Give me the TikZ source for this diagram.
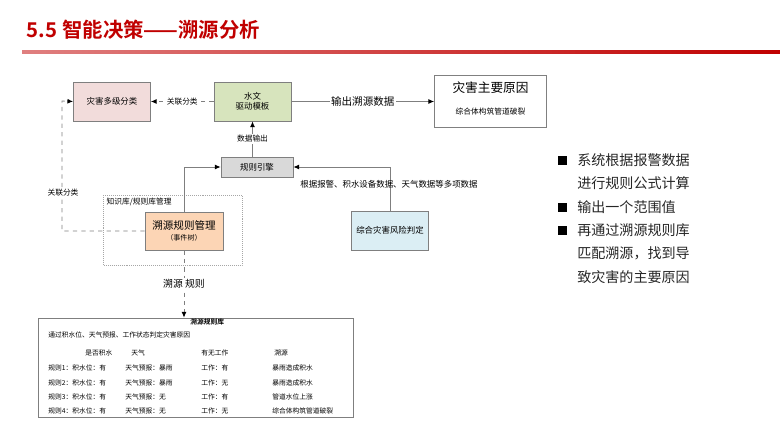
\documentclass[tikz,border=0pt]{standalone}
\usepackage{fontspec}
\setmainfont{Noto Sans CJK SC}[BoldFont={Noto Sans CJK SC Bold}]
\usetikzlibrary{positioning,arrows.meta}
\definecolor{titlered}{HTML}{C00000}
\definecolor{pinkbox}{HTML}{F2DCDB}
\definecolor{greenbox}{HTML}{D7E4BD}
\definecolor{graybox}{HTML}{D9D9D9}
\definecolor{bluebox}{HTML}{DBEEF4}
\definecolor{orangebox}{HTML}{FCD5B5}
\definecolor{bodytext}{HTML}{262626}
\definecolor{linegray}{HTML}{7F7F7F}

\begin{document}
\begin{tikzpicture}[>={Latex[length=4pt,width=3.5pt,black]},x=0.025cm,y=-0.025cm,
        box/.style={draw=linegray,semithick,minimum width=1.925cm,minimum height=0.975cm,font=\fontsize{6}{7}\selectfont,align=center},
        lbl/.style={fill=white,text=black,inner sep=1pt,font=\fontsize{5.5}{6}\selectfont},
        cell/.style={anchor=west,inner sep=0pt,font=\fontsize{4.8}{5}\selectfont},
        bullet/.style={anchor=west,inner sep=0pt,text=bodytext,font=\fontsize{10}{12}\selectfont}]
        \useasboundingbox(0,0)rectangle(780,439);
        % title
        \node[anchor=west,text=titlered,font=\fontsize{14.5}{16}\selectfont\bfseries](title)at(22,30){5.5 智能决策——溯源分析};
        \shade[left color=titlered!50,right color=titlered](22,50.5)rectangle(780,53.5);

        % boxes
        \node[box,fill=pinkbox](fenlei)at(112,101.5){灾害多级分类};
        \node[box,fill=greenbox](moxing)at(252.5,101.5){水文\\驱动模板};
        \node[box,draw=gray,minimum width=2.8cm,minimum height=1.3cm](yuanyin)at(490.5,101.5){};
        \node[font=\fontsize{9}{10}\selectfont](yuanyint)at(490.5,88){灾害主要原因};
        \node[font=\fontsize{5.5}{6}\selectfont](yuanyins)at(490.5,112){综合体构筑管道破裂};
        \node[box,fill=graybox,minimum width=1.8cm,minimum height=0.5cm](yinqing)at(257,167){规则引擎};
        \node[box,fill=bluebox,minimum width=1.9cm](panding)at(390,230.5){综合灾害风险判定};
        \draw[gray!70,densely dotted](103,195)rectangle(242,265);
        \node[anchor=north west,inner sep=1pt,font=\fontsize{5.5}{6}\selectfont](zhishi)at(105,196){知识库/规则库管理};
        \node[box,fill=orangebox,minimum width=1.95cm,minimum height=0.95cm,font=\fontsize{7.5}{9}\selectfont](guanli)at(184,231)
            {溯源规则管理\\[-1pt]{\fontsize{5}{6}\selectfont（事件树）}};

        % connectors
        \draw[->,linegray,semithick](moxing)--(yuanyin.west|-moxing)node[lbl,midway,font=\fontsize{7.5}{8}\selectfont]{输出溯源数据};
        \draw[->,linegray,semithick,dashed](moxing)--(fenlei)node[lbl,midway]{关联分类};
        \draw[->,linegray,semithick](yinqing.north-|moxing)--(moxing)node[lbl,midway]{数据输出};
        \draw[->,linegray,semithick](panding.north)|-(yinqing.east);
        \node[font=\fontsize{6}{7}\selectfont](shuju)at(389,184){根据报警、积水设备数据、天气数据等多项数据};
        \draw[->,linegray,semithick](guanli.north)|-(yinqing.west);
        \draw[->,linegray,semithick,dashed](guanli.west)-|(62,101)--(fenlei.west);
        \node[lbl](lianyu)at(63,193){关联分类};

        % rule table
        \node[draw=linegray,semithick,minimum width=7.875cm,minimum height=2.475cm,inner sep=0pt](biao)at(195.5,367.5){};
        \draw[->,linegray,semithick,dashed](guanli.south)--(guanli.south|-biao.north)node[lbl,midway,font=\fontsize{7}{8}\selectfont]{溯源 规则};
        \node[cell,font=\fontsize{4.8}{5}\selectfont\bfseries](biaoti)at(190,322){溯源规则库};
        \node[cell](shuoming)at(48,335){通过积水位、天气预报、工作状态判定灾害原因};
        \node[cell](h1)at(85,353){是否积水};
        \node[cell](h2)at(131,353){天气};
        \node[cell](h3)at(201,353){有无工作};
        \node[cell](h4)at(274,353){溯源};
        \foreach \y/\r/\w/\g/\s in {368/1/暴雨/有/暴雨造成积水,383/2/暴雨/无/暴雨造成积水,397/3/无/有/管道水位上涨,411/4/无/无/综合体构筑管道破裂}
            {
                \node[cell]at(48,\y){规则\r：积水位：有};
                \node[cell]at(125,\y){天气预报：\w};
                \node[cell]at(201,\y){工作：\g};
                \node[cell]at(272,\y){\s};
            }

        % bullets
        \foreach \y in {160,207,230}
            \fill[black](558,\y-4.5)rectangle(567,\y+4.5);
        \node[bullet](b1)at(577,160){系统根据报警数据};
        \node[bullet](b1b)at(577,183.5){进行规则公式计算};
        \node[bullet](b2)at(577,207){输出一个范围值};
        \node[bullet](b3)at(577,230){再通过溯源规则库};
        \node[bullet](b3b)at(577,253.5){匹配溯源，找到导};
        \node[bullet](b3c)at(577,277){致灾害的主要原因};
    \end{tikzpicture}
\end{document}
